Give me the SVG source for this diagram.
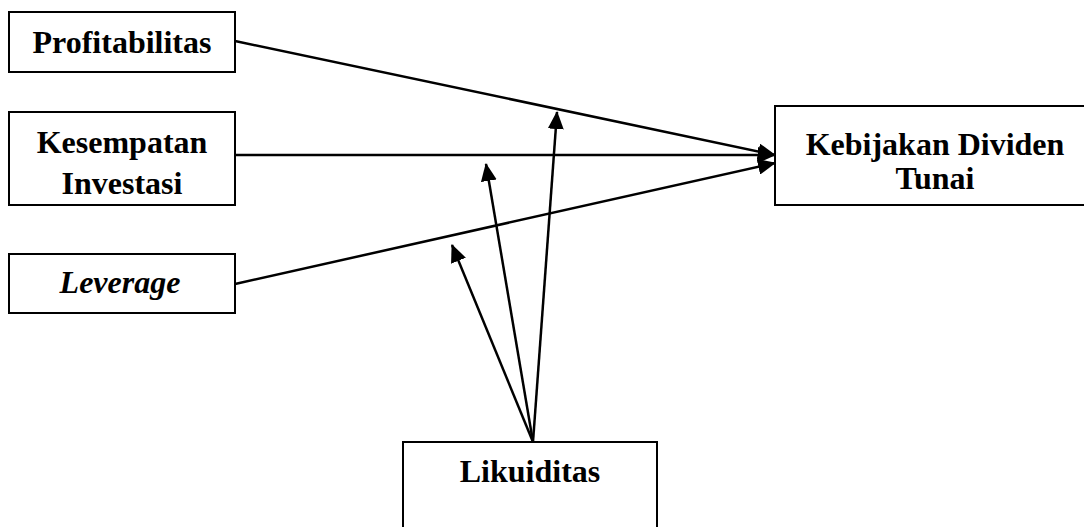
<svg xmlns="http://www.w3.org/2000/svg" width="1084" height="527" viewBox="0 0 1084 527">
<style>
.box{fill:#fff;stroke:#000;stroke-width:2}
.t{font-family:"Liberation Serif","Times New Roman",serif;font-weight:bold;font-size:32px;fill:#000;text-anchor:middle}
.c{stroke:#000;stroke-width:2.5;fill:none;marker-end:url(#ah)}
</style>
<defs>
<marker id="ah" markerUnits="userSpaceOnUse" markerWidth="18" markerHeight="16" refX="17" refY="8" orient="auto" viewBox="0 0 18 16">
<path d="M0,0 L18,8 L0,16 Z" fill="#000"/>
</marker>
</defs>
<rect width="1084" height="527" fill="#fff"/>
<g id="connectors">
<line class="c" x1="235" y1="41" x2="775" y2="155"/>
<line class="c" x1="235" y1="155" x2="775" y2="155"/>
<line class="c" x1="235" y1="284" x2="775" y2="163"/>
<line class="c" x1="533" y1="442" x2="557" y2="112"/>
<line class="c" x1="533" y1="442" x2="486" y2="164"/>
<line class="c" x1="533" y1="442" x2="452" y2="245"/>
</g>
<g id="profitabilitas">
<rect class="box" x="9" y="12" width="226" height="60"/>
<text class="t" x="122" y="53">Profitabilitas</text>
</g>
<g id="kesempatan">
<rect class="box" x="9" y="112" width="226" height="93"/>
<text class="t" x="122" y="153">Kesempatan</text>
<text class="t" x="122" y="194">Investasi</text>
</g>
<g id="leverage">
<rect class="box" x="9" y="254" width="226" height="59"/>
<text class="t" x="120" y="293" font-style="italic">Leverage</text>
</g>
<g id="kebijakan">
<rect class="box" x="775" y="106" width="330" height="99"/>
<text class="t" x="935" y="155">Kebijakan Dividen</text>
<text class="t" x="935" y="189">Tunai</text>
</g>
<g id="likuiditas">
<rect class="box" x="403" y="442" width="254" height="100"/>
<text class="t" x="530" y="482">Likuiditas</text>
</g>
</svg>
